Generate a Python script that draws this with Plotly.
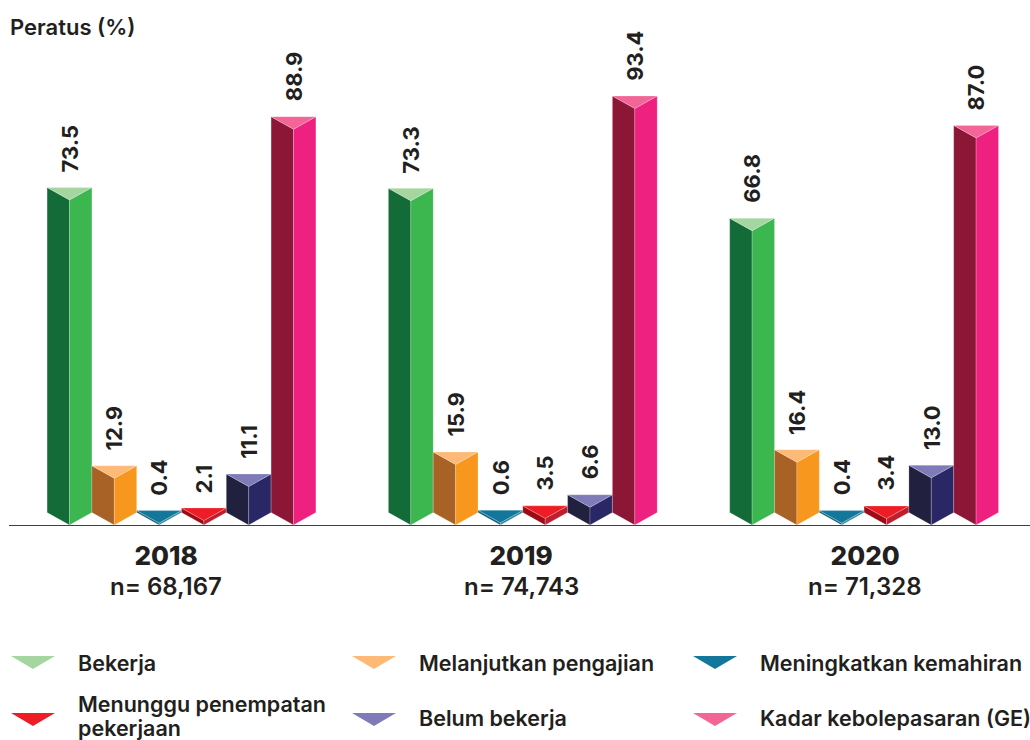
import plotly.graph_objects as go

# ---- data ----
years = ["2018", "2019", "2020"]
respondents = ["n= 68,167", "n= 74,743", "n= 71,328"]
series_names = ["Bekerja", "Melanjutkan pengajian", "Meningkatkan kemahiran",
                "Menunggu penempatan<br>pekerjaan", "Belum bekerja", "Kadar kebolepasaran (GE)"]
bekerja = [73.5, 73.3, 66.8]
melanjutkan = [12.9, 15.9, 16.4]
kemahiran = [0.4, 0.6, 0.4]
menunggu = [2.1, 3.5, 3.4]
belum = [11.1, 6.6, 13.0]
ge = [88.9, 93.4, 87.0]
all_series = [bekerja, melanjutkan, kemahiran, menunggu, belum, ge]

top_colors = ["#a6d6a0", "#fdb975", "#12779a", "#ee1c25", "#7f7bb9", "#f26596"]
left_colors = ["#136b38", "#a86226", "#0d5f7a", "#9d0b14", "#21213f", "#8c1636"]
right_colors = ["#3cb64f", "#f8971d", "#2a86a0", "#be1e2d", "#2a2766", "#ee2180"]

TEXT = "#231f20"
FONT = "Inter"
W, H = 1030, 740
BASE_PX = 525
PX_PER_UNIT = 4.593
GROUP_PX = 341.3
ORIGIN_PX = 181.5
BAR_UNITS = 44.8 / GROUP_PX
DEPTH = 12.5 / PX_PER_UNIT
year_label_x = [-0.045, 0.995, 2.003]


def drawn_top(v):
    # the original exaggerates very short prisms so their top face stays visible
    return max(v, 3 + v / 3)


fig = go.Figure()
annotations = []
for s, values in enumerate(all_series):
    tx, ty, lx, ly, rx, ry = [], [], [], [], [], []
    for g, v in enumerate(values):
        x0 = g + (s - 3) * BAR_UNITS
        xm = x0 + BAR_UNITS / 2
        x1 = x0 + BAR_UNITS
        t = drawn_top(v)
        tx += [x0, x1, xm, x0, None]
        ty += [t, t, t - DEPTH, t, None]
        lx += [x0, xm, xm, x0, x0, None]
        ly += [t, t - DEPTH, 0, DEPTH, t, None]
        rx += [x1, xm, xm, x1, x1, None]
        ry += [t, t - DEPTH, 0, DEPTH, t, None]
        annotations.append(dict(x=xm, y=t, xref="x", yref="y", text=f"{v:.1f}", textangle=-90,
                                showarrow=False, yanchor="bottom", xanchor="center", yshift=13,
                                font=dict(family=FONT, size=22, color=TEXT, weight=700)))
    edge = dict(color="rgba(255,255,255,0.35)", width=0.6)
    name = series_names[s].replace("<br>", " ")
    for px_, py_, col in ((lx, ly, left_colors[s]), (rx, ry, right_colors[s]), (tx, ty, top_colors[s])):
        fig.add_trace(go.Scatter(x=px_, y=py_, mode="lines", fill="toself", fillcolor=col, line=edge,
                                 name=name, showlegend=False, hoverinfo="skip"))

# n= labels below the year ticks
for x, n in zip(year_label_x, respondents):
    annotations.append(dict(x=x, xref="x", y=1 - 586 / H, yref="paper", text=n, showarrow=False,
                            xanchor="center", yanchor="middle",
                            font=dict(family=FONT, size=24, color=TEXT, weight=600)))

# legend (hand placed as in the reference)
legend_cols = [(11, 76), (352, 417), (693, 758)]
legend_rows = [(656, 663), (713, 718)]
LEGEND_LINE = 24
shapes = []
for s, name in enumerate(series_names):
    (kx, tx_), (ky, tyy) = legend_cols[s % 3], legend_rows[s // 3]
    path = (f"M {kx / W} {1 - ky / H} L {(kx + 44) / W} {1 - ky / H} "
            f"L {(kx + 22) / W} {1 - (ky + 13) / H} Z")
    shapes.append(dict(type="path", xref="paper", yref="paper", path=path,
                       fillcolor=top_colors[s], line=dict(width=0)))
    lines = name.split("<br>")
    for i, line in enumerate(lines):
        py = tyy - (2 if len(lines) > 1 else 0) + (i - (len(lines) - 1) / 2) * LEGEND_LINE
        annotations.append(dict(x=tx_ / W, xref="paper", y=1 - py / H, yref="paper", text=line,
                                showarrow=False, xanchor="left", yanchor="middle", align="left",
                                font=dict(family=FONT, size=21.5, color=TEXT, weight=600)))

fig.update_layout(
    width=W, height=H, autosize=False,
    margin=dict(l=0, r=0, t=0, b=0),
    paper_bgcolor="white", plot_bgcolor="white",
    showlegend=False,
    title=dict(text="Peratus (%)", x=10 / W, xref="container", xanchor="left",
               y=1 - 27 / H, yref="container", yanchor="middle",
               font=dict(family=FONT, size=22, color=TEXT, weight=600)),
    xaxis=dict(domain=[9 / W, 1], range=[(9 - ORIGIN_PX) / GROUP_PX, (W - ORIGIN_PX) / GROUP_PX],
               tickmode="array", tickvals=year_label_x, ticktext=years, ticks="", showgrid=False,
               zeroline=False, showline=True, linecolor="#3b3a78", linewidth=1.2,
               anchor="y", ticklabelstandoff=8,
               tickfont=dict(family=FONT, size=26, color=TEXT, weight=800)),
    yaxis=dict(domain=[1 - BASE_PX / H, 1], range=[0, BASE_PX / PX_PER_UNIT], visible=False,
               showgrid=False, zeroline=False),
    annotations=annotations, shapes=shapes,
)
fig.write_html("out.html", config=dict(displayModeBar=False),
               post_script="document.body.style.margin='0';")
